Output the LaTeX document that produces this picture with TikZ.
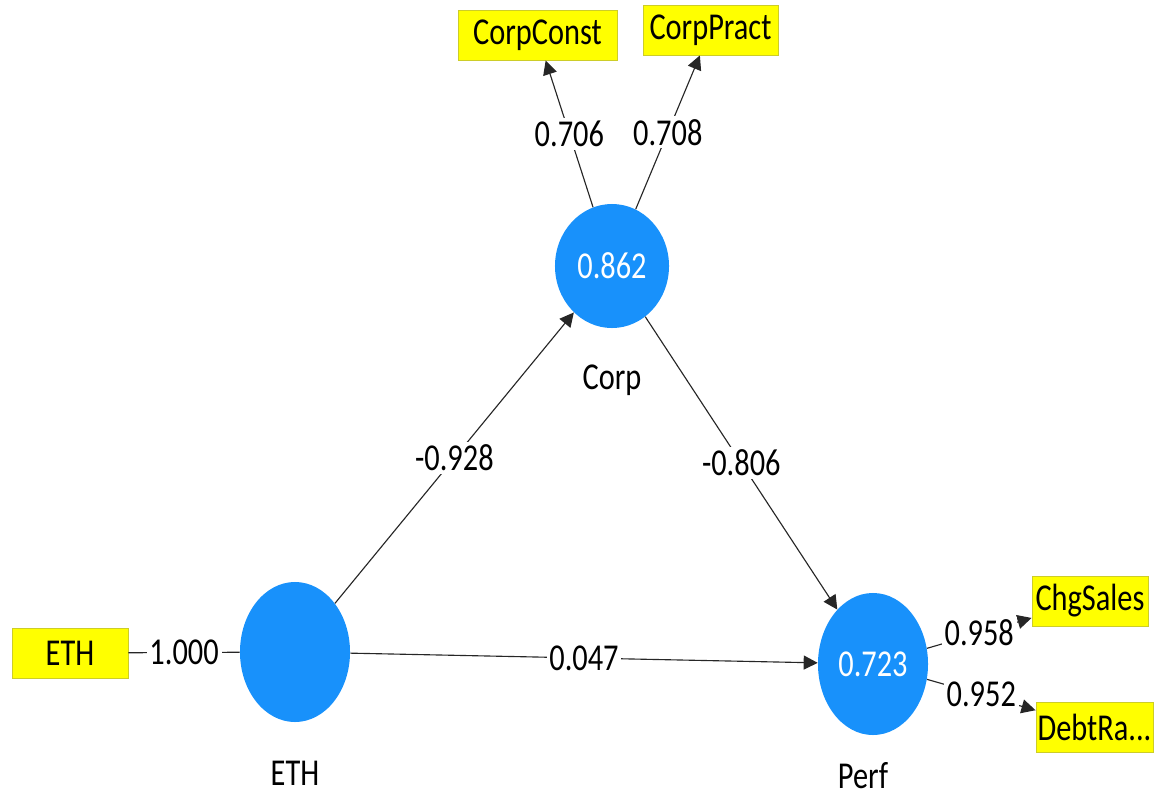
\documentclass[tikz,border=0pt]{standalone}
\usepackage{fontspec}
\newfontfamily\plsfont[FakeStretch=0.8]{Carlito}
\usetikzlibrary{shapes.geometric,arrows.meta,positioning}
\definecolor{plsblue}{RGB}{24,145,251}
\definecolor{plsyellow}{RGB}{255,255,0}
\definecolor{plsedge}{RGB}{205,205,40}
\tikzset{
  >={Triangle[length=10pt,width=10pt]},
  every node/.style={font=\plsfont\fontsize{27}{30}\selectfont},
  latent/.style args={#1,#2}{ellipse,fill=plsblue,text=white,inner sep=0pt,
    minimum width=#1 cm,minimum height=#2 cm},
  indicator/.style={rectangle,draw=plsedge,fill=plsyellow,line width=0.6pt,
    minimum width=#1 cm,minimum height=1.25cm,inner sep=1pt},
  wgt/.style={fill=white,inner sep=2pt},
  link/.style={->,draw=black!85,line width=0.8pt},
  nm/.style={label distance=#1cm}
}
\begin{document}
\begin{tikzpicture}[x=0.025cm,y=-0.025cm]

  \path[use as bounding box,fill=white] (0,0) rectangle (1160,798);

  % latent variables
  \node [latent={2.85,3.1},label={[nm=0.8]below:Corp}] (corp) at (612,266) {0.862};
  \node [latent={2.75,3.5},label={[nm=0.85]below:ETH}] (eth) at (295,652) {};
  \node [latent={2.75,3.55},label={[nm=0.55,xshift=-0.25cm]below:Perf}] (perf) at (873,664) {0.723};

  % indicators
  \node [indicator=3.975] (cconst) at (537.5,35) {CorpConst};
  \node [indicator=3.375] (cpract) at (710.5,30) {CorpPract};
  \node [indicator=2.9] (ethi) at (70,653) {ETH};
  \node [indicator=2.9] (chg) at (1090,601) {ChgSales};
  \node [indicator=2.925] (debt) at (1094.5,727) {DebtRa...};

  \path[link] (corp) edge[link] node[wgt]{0.706} (cconst)
    (corp) edge[link] node[wgt]{0.708} (cpract)
    (eth) edge[link] node[wgt]{-0.928} (corp)
    (corp) edge[link] node[wgt]{-0.806} (perf)
    (eth) edge[link] node[wgt]{0.047} (perf)
    (perf) edge[link] node[wgt]{0.958} (chg)
    (perf) edge[link] node[wgt]{0.952} (debt)
    (ethi) edge[link,-] node[wgt]{1.000} (eth);

\end{tikzpicture}
\end{document}
